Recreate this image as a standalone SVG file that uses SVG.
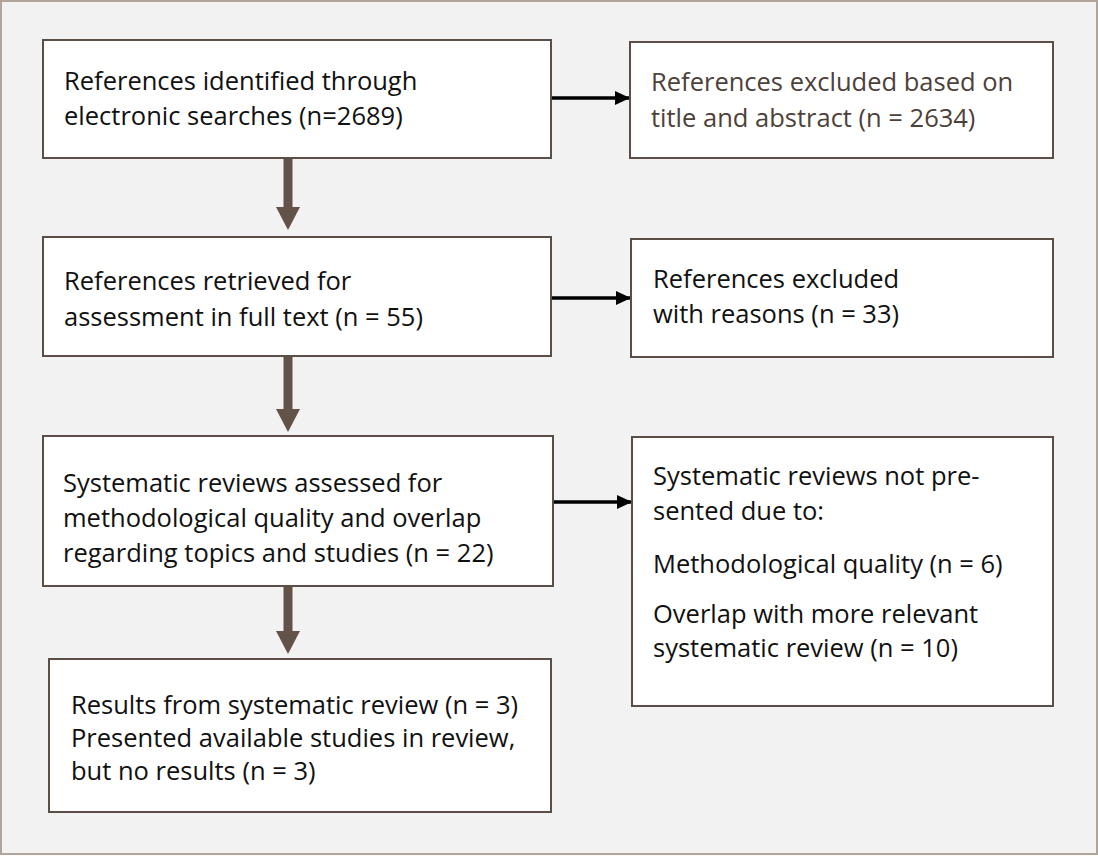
<svg xmlns="http://www.w3.org/2000/svg" width="1098" height="856" viewBox="0 0 1098 856">
<style>
.box{fill:#ffffff;stroke:#5a4e46;stroke-width:2}
.t{font-family:"Open Sans","Liberation Sans",sans-serif;font-size:25.5px;fill:#111111}
.tb{fill:#4d413a}
.down{fill:#625248}
.h{stroke:#000000;stroke-width:3.5;fill:none;marker-end:url(#ah)}
</style>
<defs>
<marker id="ah" markerUnits="userSpaceOnUse" markerWidth="16" markerHeight="16" refX="15" refY="7" orient="auto">
<path d="M0,0 L15,7 L0,14 Z" fill="#000000"/>
</marker>
</defs>
<rect x="1" y="1" width="1096" height="853" fill="#f2f2f2" stroke="#b0a39a" stroke-width="2"/>
<g id="connectors">
<path class="down" d="M283.5,158 H292.5 V207 H300 L288,230 L276,207 H283.5 Z"/>
<path class="down" d="M283.5,356 H292.5 V409 H300 L288,432 L276,409 H283.5 Z"/>
<path class="down" d="M283.5,586 H292.5 V631 H300 L288,654 L276,631 H283.5 Z"/>
<line class="h" x1="551" y1="98" x2="630" y2="98"/>
<line class="h" x1="551" y1="298" x2="631" y2="298"/>
<line class="h" x1="553" y1="502" x2="632" y2="502"/>
</g>
<g id="n1">
<rect class="box" x="43" y="40" width="508" height="118"/>
<text class="t" x="64" y="90">References identified through</text>
<text class="t" x="64" y="125">electronic searches (n=2689)</text>
</g>
<g id="n2">
<rect class="box" x="630" y="42" width="423" height="116"/>
<text class="t tb" x="651" y="91">References excluded based on</text>
<text class="t tb" x="651" y="127">title and abstract (n = 2634)</text>
</g>
<g id="n3">
<rect class="box" x="43" y="237" width="508" height="119"/>
<text class="t" x="64" y="290">References retrieved for</text>
<text class="t" x="64" y="326">assessment in full text (n = 55)</text>
</g>
<g id="n4">
<rect class="box" x="631" y="239" width="422" height="118"/>
<text class="t" x="653" y="288">References excluded</text>
<text class="t" x="653" y="323">with reasons (n = 33)</text>
</g>
<g id="n5">
<rect class="box" x="43" y="436" width="510" height="150"/>
<text class="t" x="63" y="492">Systematic reviews assessed for</text>
<text class="t" x="63" y="527">methodological quality and overlap</text>
<text class="t" x="63" y="562">regarding topics and studies (n = 22)</text>
</g>
<g id="n6">
<rect class="box" x="632" y="437" width="421" height="269"/>
<text class="t" x="653" y="485">Systematic reviews not pre-</text>
<text class="t" x="653" y="520">sented due to:</text>
<text class="t" x="653" y="573">Methodological quality (n = 6)</text>
<text class="t" x="653" y="623">Overlap with more relevant</text>
<text class="t" x="653" y="657">systematic review (n = 10)</text>
</g>
<g id="n7">
<rect class="box" x="49" y="659" width="502" height="153"/>
<text class="t" x="71" y="714">Results from systematic review (n = 3)</text>
<text class="t" x="71" y="747">Presented available studies in review,</text>
<text class="t" x="71" y="780">but no results (n = 3)</text>
</g>
</svg>
